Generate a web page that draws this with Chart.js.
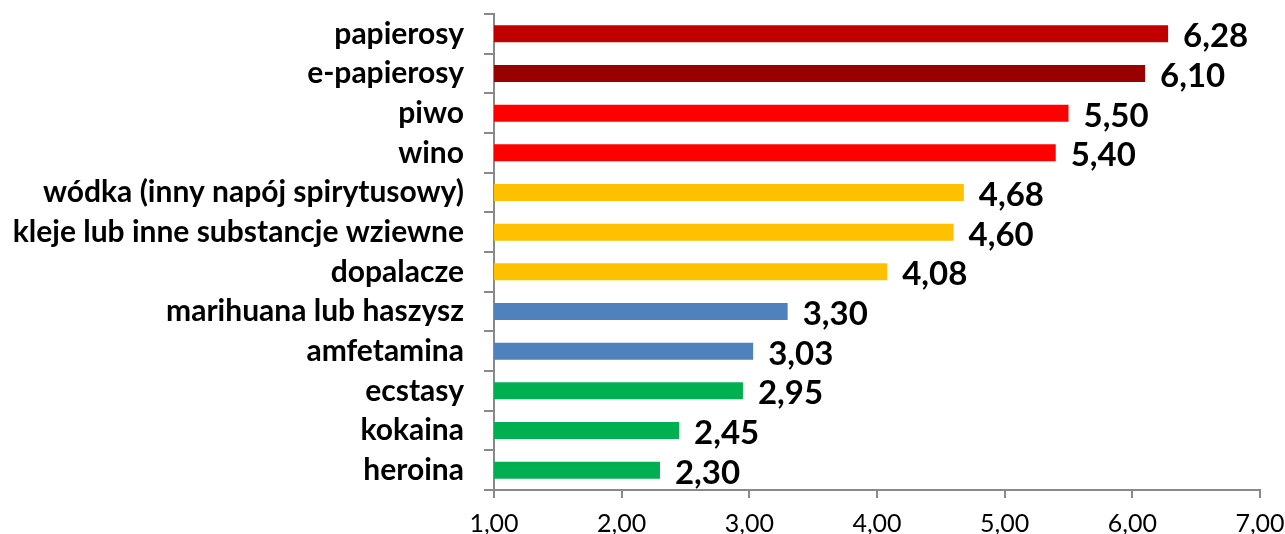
<!DOCTYPE html>
<html>
<head>
<meta charset="utf-8">
<script src="https://cdn.jsdelivr.net/npm/chart.js@4/dist/chart.umd.min.js"></script>
<style>
  body { margin: 0; background: #fff; }
  #wrap { width: 1285px; height: 534px; }
</style>
</head>
<body>
<div id="wrap"><canvas id="chart" width="1285" height="534"></canvas></div>
<script>
// Data
const categories = [
    'papierosy', 'e-papierosy', 'piwo', 'wino',
    'wódka (inny napój spirytusowy)', 'kleje lub inne substancje wziewne', 'dopalacze',
    'marihuana lub haszysz', 'amfetamina', 'ecstasy', 'kokaina', 'heroina'
];
const values = [6.28, 6.10, 5.50, 5.40, 4.68, 4.60, 4.08, 3.30, 3.03, 2.95, 2.45, 2.30];
const barColors = [
    '#C00000', '#990000', '#FF0000', '#FF0000',
    '#FFC000', '#FFC000', '#FFC000',
    '#4F81BD', '#4F81BD',
    '#00B050', '#00B050', '#00B050'
];
const xTicks = [1, 2, 3, 4, 5, 6, 7];

const fmt = v => v.toFixed(2).replace('.', ',');
const axisGray = '#898989';

// Value labels to the right of each bar
const valueLabels = {
    id: 'valueLabels',
    afterDatasetsDraw(chart) {
        const ctx = chart.ctx;
        const meta = chart.getDatasetMeta(0);
        ctx.save();
        ctx.font = 'bold 33px Lato';
        ctx.fillStyle = '#000';
        ctx.textAlign = 'left';
        ctx.textBaseline = 'middle';
        meta.data.forEach((bar, i) => {
            ctx.fillText(fmt(values[i]), bar.x + 15, bar.y + 3);
        });
        ctx.restore();
    }
};

new Chart(document.getElementById('chart'), {
    type: 'bar',
    data: {
        labels: categories,
        datasets: [{
            data: values,
            backgroundColor: barColors,
            borderWidth: 0,
            barPercentage: 0.43,
            categoryPercentage: 1.0
        }]
    },
    options: {
        indexAxis: 'y',
        responsive: false,
        animation: false,
        layout: { padding: { top: 14, right: 25, left: 0, bottom: 0 } },
        plugins: {
            legend: { display: false },
            tooltip: { enabled: false }
        },
        scales: {
            x: {
                min: 1,
                max: 7,
                afterBuildTicks: scale => {
                    scale.ticks = xTicks.map(v => ({ value: v }));
                },
                grid: {
                    drawOnChartArea: false,
                    color: axisGray,
                    tickLength: 8,
                    lineWidth: 2
                },
                border: { color: axisGray, width: 2 },
                ticks: {
                    color: '#000',
                    font: { family: 'Lato', size: 25 },
                    padding: 11,
                    maxRotation: 0,
                    callback: v => fmt(v)
                },
                afterFit: scale => {
                    scale.height = 44;
                    scale.paddingLeft = 0;
                    scale.paddingRight = 0;
                }
            },
            y: {
                grid: {
                    drawOnChartArea: false,
                    color: axisGray,
                    tickLength: 10,
                    lineWidth: 2,
                    offset: true
                },
                border: { color: axisGray, width: 2 },
                ticks: {
                    color: '#000',
                    font: { family: 'Lato', size: 30, weight: 'bold' },
                    padding: 20,
                    autoSkip: false
                },
                afterFit: scale => {
                    scale.width = 494;
                    scale.paddingTop = 0;
                    scale.paddingBottom = 0;
                }
            }
        }
    },
    plugins: [valueLabels]
});
</script>
</body>
</html>
